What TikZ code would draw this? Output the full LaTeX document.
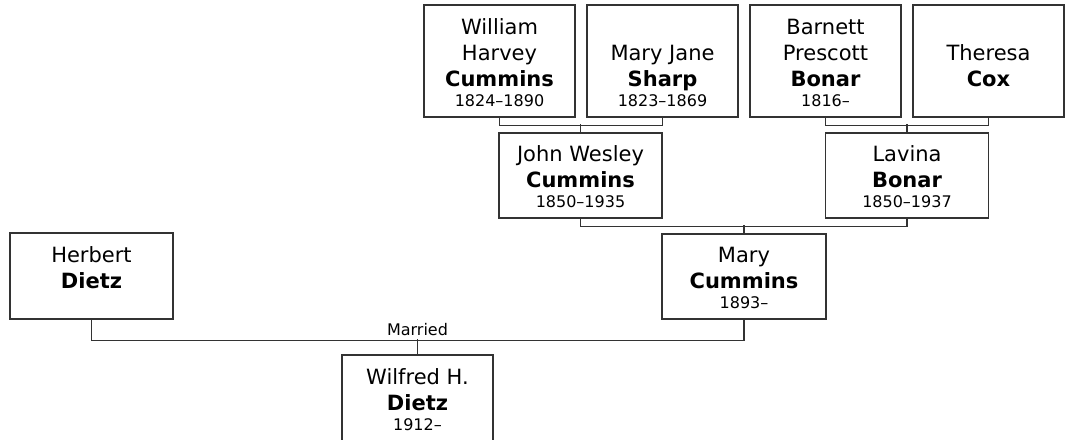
\documentclass[tikz,border=0pt]{standalone}
\usepackage{fontspec}
\setmainfont{DejaVu Sans}
\definecolor{linecol}{HTML}{333333}
\newcommand\pname[5]{%
  \node[sn] (#1-s) at (#2,#3-30.5) {#4};
  \if\relax\detokenize{#5}\relax\else
  \node[dt] (#1-d) at (#2,#3-10.5) {#5};\fi}
\begin{document}
\begin{tikzpicture}[x=0.75pt,y=-0.75pt,
  box/.style={draw=linecol, line width=0.95pt, fill=white, inner sep=0pt},
  nm/.style={font=\fontsize{15.75}{19}\selectfont, anchor=base, inner sep=0pt},
  sn/.style={font=\fontsize{15.75}{19}\selectfont\bfseries, anchor=base, inner sep=0pt},
  dt/.style={font=\fontsize{12}{14}\selectfont, anchor=base, inner sep=0pt},
  conn/.style={draw=linecol, line width=0.95pt}]
\clip (0,0) rectangle (1066,439);
\fill[white] (0,0) rectangle (1066,439);
% boxes
\node[box, minimum width=113.25pt, minimum height=84pt] (wh) at (499.5,61) {};
\node[box, minimum width=113.25pt, minimum height=84pt] (mj) at (662.5,61) {};
\node[box, minimum width=113.25pt, minimum height=84pt] (bp) at (825.5,61) {};
\node[box, minimum width=113.25pt, minimum height=84pt] (tc) at (988.5,61) {};
\node[box, minimum width=122.25pt, minimum height=63.75pt] (jw) at (580.5,175.5) {};
\node[box, minimum width=122.25pt, minimum height=63.75pt] (lb) at (907,175.5) {};
\node[box, minimum width=123pt, minimum height=63.75pt] (mc) at (744,276.5) {};
\node[box, minimum width=122.25pt, minimum height=64.5pt] (hd) at (91.5,276) {};
\node[box, minimum width=113.25pt, minimum height=64.5pt] (wd) at (417.5,398) {};
% texts
\node[nm] (wh-g1) at (499.5,34.5) {William};
\node[nm] (wh-g2) at (499.5,60.5) {Harvey};
\pname{wh}{499.5}{117}{Cummins}{1824–1890}
\node[nm] (mj-g) at (662.5,60.5) {Mary Jane};
\pname{mj}{662.5}{117}{Sharp}{1823–1869}
\node[nm] (bp-g1) at (825.5,34.5) {Barnett};
\node[nm] (bp-g2) at (825.5,60.5) {Prescott};
\pname{bp}{825.5}{117}{Bonar}{1816–}
\node[nm] (tc-g) at (988.5,60.5) {Theresa};
\pname{tc}{988.5}{117}{Cox}{}
\node[nm] (jw-g) at (580.5,161.5) {John Wesley};
\pname{jw}{580.5}{218}{Cummins}{1850–1935}
\node[nm] (lb-g) at (907,161.5) {Lavina};
\pname{lb}{907}{218}{Bonar}{1850–1937}
\node[nm] (mc-g) at (744,262.5) {Mary};
\pname{mc}{744}{319}{Cummins}{1893–}
\node[nm] (hd-g) at (91.5,262.5) {Herbert};
\pname{hd}{91.5}{319}{Dietz}{}
\node[nm] (wd-g) at (417.5,384.5) {Wilfred H.};
\pname{wd}{417.5}{441}{Dietz}{1912–}
% connectors
\draw[conn] (wh.south) -- ++(0,8) -| (mj.south);
\draw[conn] (jw.north) -- ++(0,-8);
\draw[conn] (bp.south) -- ++(0,8) -| (tc.south);
\draw[conn] (lb.north) -- ++(0,-8);
\draw[conn] (jw.south) -- ++(0,8) -| (lb.south);
\draw[conn] (mc.north) -- ++(0,-8);
\draw[conn] (hd.south) -- ++(0,21) -| (mc.south);
\draw[conn] (wd.north) -- ++(0,-15) coordinate (mar);
\node[dt] (married) at ([yshift=3pt]mar) {Married};
\end{tikzpicture}
\end{document}
